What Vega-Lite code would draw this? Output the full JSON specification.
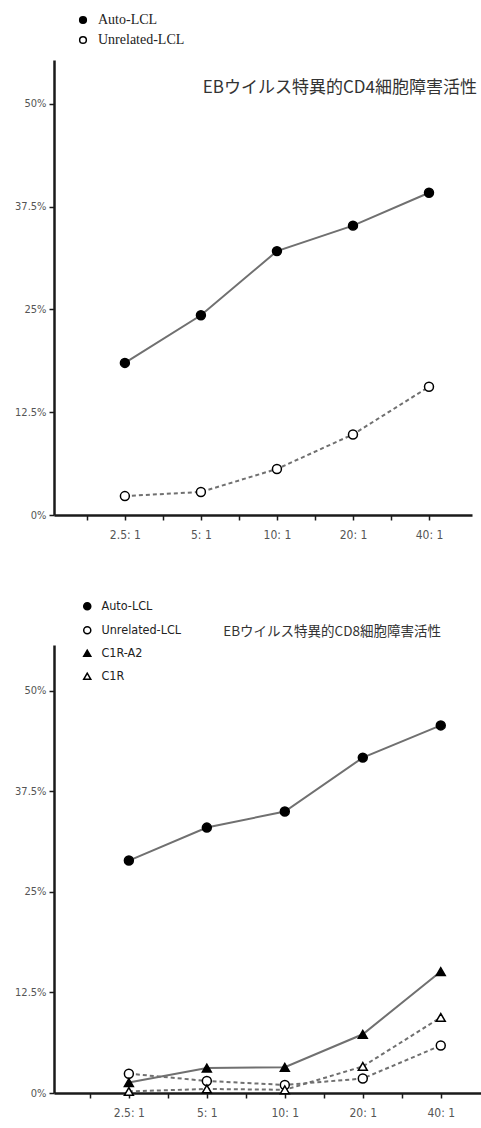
{
  "$schema": "https://vega.github.io/schema/vega-lite/v6.json",
  "background": "white",
  "padding": {"left": 14, "top": 13, "right": 0, "bottom": 0},
  "spacing": 60,
  "config": {
    "view": {"stroke": null},
    "axis": {
      "grid": false,
      "domainColor": "#1a1a1a",
      "domainWidth": 2.5,
      "tickColor": "#1a1a1a",
      "tickWidth": 1.5,
      "tickSize": 5,
      "labelFont": "DejaVu Sans Condensed, Liberation Sans",
      "labelFontSize": 11,
      "labelColor": "#555555",
      "title": null
    },
    "legend": {
      "padding": 0,
      "labelColor": "#222222"
    }
  },
  "resolve": {
    "scale": {"x": "independent", "y": "independent", "shape": "independent", "fill": "independent"}
  },
  "vconcat": [
    {
      "width": 418,
      "height": 455,
      "title": {
        "text": "EBウイルス特異的CD4細胞障害活性",
        "anchor": "end",
        "frame": "group",
        "font": "Noto Sans CJK JP",
        "fontSize": 17,
        "fontWeight": "normal",
        "color": "#333333",
        "offset": -84,
        "dx": 5
      },
      "data": {
        "values": [
          {"series": "Auto-LCL", "ratio": 2.5, "value": 18.5},
          {"series": "Auto-LCL", "ratio": 5, "value": 24.3},
          {"series": "Auto-LCL", "ratio": 10, "value": 32.1},
          {"series": "Auto-LCL", "ratio": 20, "value": 35.2},
          {"series": "Auto-LCL", "ratio": 40, "value": 39.2},
          {"series": "Unrelated-LCL", "ratio": 2.5, "value": 2.3},
          {"series": "Unrelated-LCL", "ratio": 5, "value": 2.8},
          {"series": "Unrelated-LCL", "ratio": 10, "value": 5.6},
          {"series": "Unrelated-LCL", "ratio": 20, "value": 9.8},
          {"series": "Unrelated-LCL", "ratio": 40, "value": 15.6}
        ]
      },
      "encoding": {
        "x": {
          "field": "ratio",
          "type": "quantitative",
          "scale": {"type": "log", "base": 2, "domain": [1.31, 59.2], "nice": false},
          "axis": {
            "values": [1.768, 2.5, 3.536, 5, 7.071, 10, 14.14, 20, 28.28, 40],
            "labelExpr": "indexof([2.5, 5, 10, 20, 40], datum.value) >= 0 ? datum.value + ': 1' : ''",
            "labelPadding": 9,
            "labelFontSize": 12
          }
        },
        "y": {
          "field": "value",
          "type": "quantitative",
          "scale": {"domain": [0, 55.35], "nice": false},
          "axis": {
            "values": [0, 12.5, 25, 37.5, 50],
            "labelExpr": "datum.value + '%'",
            "labelPadding": 3
          }
        }
      },
      "layer": [
        {
          "transform": [{"filter": "datum.series === 'Auto-LCL'"}],
          "mark": {"type": "line", "color": "#707070", "strokeWidth": 2},
          "encoding": {"detail": {"field": "series", "type": "nominal"}}
        },
        {
          "transform": [{"filter": "datum.series === 'Unrelated-LCL'"}],
          "mark": {"type": "line", "color": "#707070", "strokeWidth": 2, "strokeDash": [4, 3]},
          "encoding": {"detail": {"field": "series", "type": "nominal"}}
        },
        {
          "mark": {"type": "point", "filled": true, "stroke": "#000000", "strokeWidth": 1.5, "size": 80, "opacity": 1},
          "encoding": {
            "shape": {
              "field": "series",
              "type": "nominal",
              "scale": {"domain": ["Auto-LCL", "Unrelated-LCL"], "range": ["circle", "circle"]},
              "legend": {"orient": "none", "legendX": 22, "legendY": -47, "title": null, "labelFont": "Liberation Serif", "labelFontSize": 14, "rowPadding": 6, "symbolSize": 45, "labelOffset": 8, "encode": {"symbols": {"update": {"stroke": {"value": "#000000"}, "strokeWidth": {"value": 1.3}}}}}
            },
            "fill": {
              "field": "series",
              "type": "nominal",
              "scale": {"domain": ["Auto-LCL", "Unrelated-LCL"], "range": ["#000000", "#ffffff"]},
              "legend": {"orient": "none", "legendX": 22, "legendY": -47, "title": null, "labelFont": "Liberation Serif", "labelFontSize": 14, "rowPadding": 6, "symbolSize": 45, "labelOffset": 8, "encode": {"symbols": {"update": {"stroke": {"value": "#000000"}, "strokeWidth": {"value": 1.3}}}}}
            }
          }
        }
      ]
    },
    {
      "width": 427,
      "height": 448,
      "title": {
        "text": "EBウイルス特異的CD8細胞障害活性",
        "anchor": "end",
        "frame": "group",
        "font": "Noto Sans CJK JP",
        "fontSize": 13.5,
        "fontWeight": "normal",
        "color": "#333333",
        "offset": -38,
        "dx": -40
      },
      "data": {
        "values": [
          {"series": "Auto-LCL", "ratio": 2.5, "value": 28.9},
          {"series": "Auto-LCL", "ratio": 5, "value": 33.0},
          {"series": "Auto-LCL", "ratio": 10, "value": 35.0},
          {"series": "Auto-LCL", "ratio": 20, "value": 41.7},
          {"series": "Auto-LCL", "ratio": 40, "value": 45.7},
          {"series": "Unrelated-LCL", "ratio": 2.5, "value": 2.4},
          {"series": "Unrelated-LCL", "ratio": 5, "value": 1.5},
          {"series": "Unrelated-LCL", "ratio": 10, "value": 1.0},
          {"series": "Unrelated-LCL", "ratio": 20, "value": 1.8},
          {"series": "Unrelated-LCL", "ratio": 40, "value": 5.9},
          {"series": "C1R-A2", "ratio": 2.5, "value": 1.3},
          {"series": "C1R-A2", "ratio": 5, "value": 3.1},
          {"series": "C1R-A2", "ratio": 10, "value": 3.2},
          {"series": "C1R-A2", "ratio": 20, "value": 7.3},
          {"series": "C1R-A2", "ratio": 40, "value": 15.1},
          {"series": "C1R", "ratio": 2.5, "value": 0.2},
          {"series": "C1R", "ratio": 5, "value": 0.5},
          {"series": "C1R", "ratio": 10, "value": 0.4},
          {"series": "C1R", "ratio": 20, "value": 3.3},
          {"series": "C1R", "ratio": 40, "value": 9.4}
        ]
      },
      "encoding": {
        "x": {
          "field": "ratio",
          "type": "quantitative",
          "scale": {"type": "log", "base": 2, "domain": [1.285, 57.2], "nice": false},
          "axis": {
            "values": [1.768, 2.5, 3.536, 5, 7.071, 10, 14.14, 20, 28.28, 40],
            "labelExpr": "indexof([2.5, 5, 10, 20, 40], datum.value) >= 0 ? datum.value + ': 1' : ''",
            "labelPadding": 9,
            "labelFontSize": 12
          }
        },
        "y": {
          "field": "value",
          "type": "quantitative",
          "scale": {"domain": [0, 55.7], "nice": false},
          "axis": {
            "values": [0, 12.5, 25, 37.5, 50],
            "labelExpr": "datum.value + '%'",
            "labelPadding": 3
          }
        }
      },
      "layer": [
        {
          "transform": [{"filter": "datum.series === 'Auto-LCL' || datum.series === 'C1R-A2'"}],
          "mark": {"type": "line", "color": "#707070", "strokeWidth": 2},
          "encoding": {"detail": {"field": "series", "type": "nominal"}}
        },
        {
          "transform": [{"filter": "datum.series === 'Unrelated-LCL' || datum.series === 'C1R'"}],
          "mark": {"type": "line", "color": "#707070", "strokeWidth": 2, "strokeDash": [4, 3]},
          "encoding": {"detail": {"field": "series", "type": "nominal"}}
        },
        {
          "mark": {"type": "point", "filled": true, "stroke": "#000000", "strokeWidth": 1.5, "size": 80, "opacity": 1},
          "encoding": {
            "shape": {
              "field": "series",
              "type": "nominal",
              "scale": {"domain": ["Auto-LCL", "Unrelated-LCL", "C1R-A2", "C1R"], "range": ["circle", "circle", "triangle-up", "triangle-up"]},
              "legend": {"orient": "none", "legendX": 27, "legendY": -45, "title": null, "labelFont": "DejaVu Sans Condensed, Liberation Sans", "labelFontSize": 12.5, "rowPadding": 10, "symbolSize": 50, "labelOffset": 8, "encode": {"symbols": {"update": {"stroke": {"value": "#000000"}, "strokeWidth": {"value": 1.2}}}}}
            },
            "fill": {
              "field": "series",
              "type": "nominal",
              "scale": {"domain": ["Auto-LCL", "Unrelated-LCL", "C1R-A2", "C1R"], "range": ["#000000", "#ffffff", "#000000", "#ffffff"]},
              "legend": {"orient": "none", "legendX": 27, "legendY": -45, "title": null, "labelFont": "DejaVu Sans Condensed, Liberation Sans", "labelFontSize": 12.5, "rowPadding": 10, "symbolSize": 50, "labelOffset": 8, "encode": {"symbols": {"update": {"stroke": {"value": "#000000"}, "strokeWidth": {"value": 1.2}}}}}
            }
          }
        }
      ]
    }
  ]
}
